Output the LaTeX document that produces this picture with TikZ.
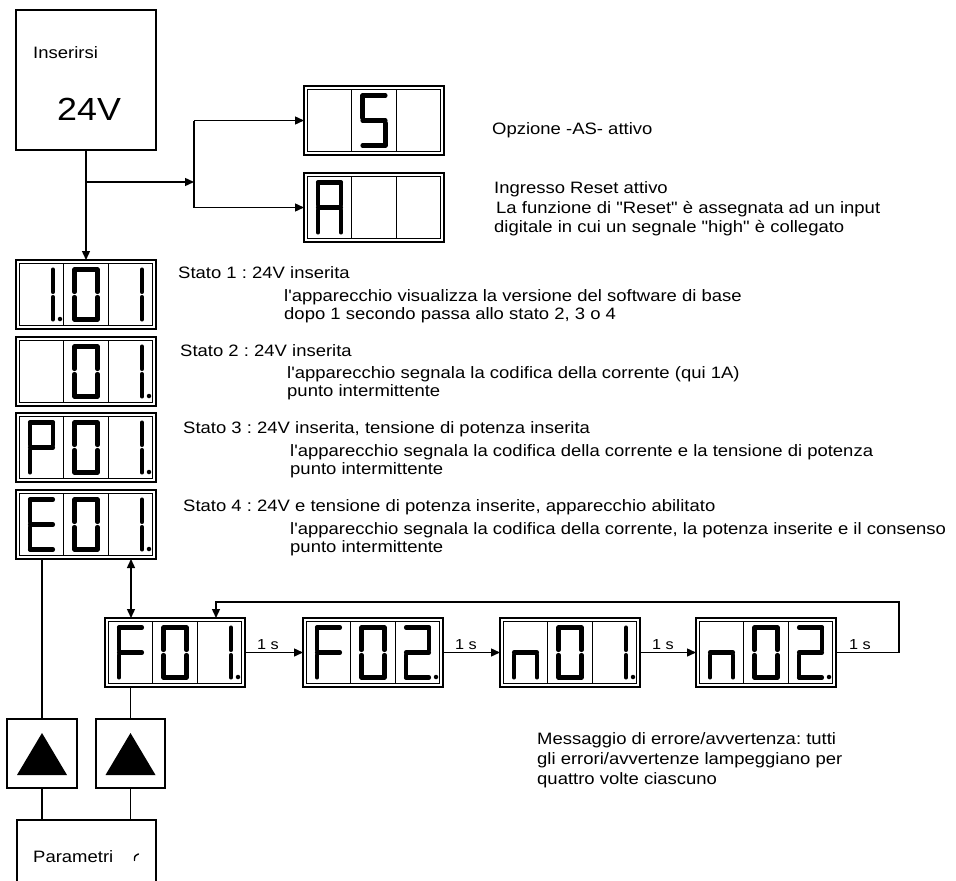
\documentclass[tikz,border=0pt]{standalone}
\usepackage{fontspec}
\newfontfamily\arialf[FakeStretch=1.12]{Liberation Sans}
\usetikzlibrary{arrows.meta,calc}
\def\segpa{(-11.5,-25) -- (11.5,-25)}
\def\segpb{(11.5,-25) -- (11.5,-2.5)}
\def\segpc{(11.5,2.5) -- (11.5,25)}
\def\segpd{(-11.5,25) -- (11.5,25)}
\def\segpe{(-11.5,2.5) -- (-11.5,25)}
\def\segpf{(-11.5,-25) -- (-11.5,-2.5)}
\def\segpg{(-11.5,0) -- (11.5,0)}
\def\segpp{(18.5,24.5) circle (0.2)}
\def\segpx{(0,0)}
\newcommand\sevseg[3]{\begin{scope}[shift={({#1},{#2})}]\foreach \s in {#3}{\expandafter\let\expandafter\segcur\csname segp\s\endcsname\draw[segline] \segcur;}\end{scope}}
\newcommand\dispunit[6]{%
  \node[dispout] (#1) at (#2,#3) {};
  \draw[dispin] ({#2+3.3},{#3+3.3}) rectangle ({#2+136.7},{#3+65.7});
  \draw[divline] ({#2+47.8},{#3+3.3}) -- ({#2+47.8},{#3+65.7}) ({#2+92.2},{#3+3.3}) -- ({#2+92.2},{#3+65.7});
  \sevseg{#2+25.5}{#3+34.5}{#4}%
  \sevseg{#2+70}{#3+34.5}{#5}%
  \sevseg{#2+114.5}{#3+34.5}{#6}%
}
\begin{document}
\begin{tikzpicture}[x=1pt,y=-1pt,
  conn/.style={line width=1.4pt},
  >={Triangle[length=9pt,width=8pt]},
  segline/.style={line width=4.1pt,line cap=round,line join=round},
  dispout/.style={draw,line width=1.6pt,minimum width=140pt,minimum height=69pt,anchor=north west,inner sep=0pt,outer sep=0pt},
  dispin/.style={line width=1.3pt},
  divline/.style={line width=1.1pt},
  boxn/.style={draw,line width=1.4pt,anchor=north west,inner sep=0pt,outer sep=0pt},
  txt/.style={font=\arialf\fontsize{16.5}{18}\selectfont\frenchspacing,inner sep=0pt,anchor=base west},
  bigtxt/.style={font=\arialf\fontsize{32}{36}\selectfont,inner sep=0pt,anchor=base west},
  smalltxt/.style={font=\arialf\fontsize{14.5}{16}\selectfont,inner sep=0pt,anchor=base west}]
\useasboundingbox (0,0) rectangle (956,881);
\clip (0,0) rectangle (956,881);

% power box
\node[boxn,minimum width=140pt,minimum height=140pt] (in) at (16,10) {};
\node[txt] (tIns) at (33,58) {Inserirsi};
\node[bigtxt] (t24) at (57,120) {24V};

% displays
\dispunit{dS}{304}{86}{x}{a,f,g,c,d}{x}
\dispunit{dA}{304}{173}{a,b,c,e,f,g}{x}{x}
\dispunit{d1}{16}{260}{b,c,p}{a,b,c,d,e,f}{b,c}
\dispunit{d2}{16}{337}{x}{a,b,c,d,e,f}{b,c,p}
\dispunit{d3}{16}{413}{a,b,f,g,e}{a,b,c,d,e,f}{b,c,p}
\dispunit{d4}{16}{490}{a,f,g,e,d}{a,b,c,d,e,f}{b,c,p}
\dispunit{dF1}{105}{618}{a,f,g,e}{a,b,c,d,e,f}{b,c,p}
\dispunit{dF2}{303}{618}{a,f,g,e}{a,b,c,d,e,f}{a,b,g,e,d,p}
\dispunit{dF3}{500}{618}{e,g,c}{a,b,c,d,e,f}{b,c,p}
\dispunit{dF4}{696}{618}{e,g,c}{a,b,c,d,e,f}{a,b,g,e,d,p}

% key boxes
\node[boxn,minimum width=70pt,minimum height=69pt] (t1) at (7,719) {};
\node[boxn,minimum width=69pt,minimum height=69pt] (t2) at (96,719) {};
\fill ($(t1.center)+(0,-20.5)$) -- ($(t1.center)+(-25,21.5)$) -- ($(t1.center)+(25,21.5)$) -- cycle;
\fill ($(t2.center)+(0,-20.5)$) -- ($(t2.center)+(-25,21.5)$) -- ($(t2.center)+(25,21.5)$) -- cycle;
\node[boxn,minimum width=139pt,minimum height=100pt] (par) at (17,820) {};
\node[txt] (tPar) at (33,862) {Parametri};
\draw[line width=1.4pt,line cap=round] (134.5,860.5) .. controls (134.5,856) .. (138.5,854);

% texts
\node[txt] (opz) at (492,134) {Opzione -AS- attivo};
\node[txt] (ing1) at (494,193) {Ingresso Reset attivo};
\node[txt] (ing2) at (496,213) {La funzione di "Reset" è assegnata ad un input};
\node[txt] (ing3) at (494,232) {digitale in cui un segnale "high" è collegato};
\node[txt] (s1a) at (178,278) {Stato 1 : 24V inserita};
\node[txt] (s1b) at (284,301) {l'apparecchio visualizza la versione del software di base};
\node[txt] (s1c) at (284,319) {dopo 1 secondo passa allo stato 2, 3 o 4};
\node[txt] (s2a) at (180,356) {Stato 2 : 24V inserita};
\node[txt] (s2b) at (287,378) {l'apparecchio segnala la codifica della corrente (qui 1A)};
\node[txt] (s2c) at (287,396) {punto intermittente};
\node[txt] (s3a) at (183,433) {Stato 3 : 24V inserita, tensione di potenza inserita};
\node[txt] (s3b) at (290,456) {l'apparecchio segnala la codifica della corrente e la tensione di potenza};
\node[txt] (s3c) at (290,474) {punto intermittente};
\node[txt] (s4a) at (183,511) {Stato 4 : 24V e tensione di potenza inserite, apparecchio abilitato};
\node[txt] (s4b) at (290,534) {l'apparecchio segnala la codifica della corrente, la potenza inserite e il consenso};
\node[txt] (s4c) at (290,552) {punto intermittente};
\node[txt] (m1) at (537,744) {Messaggio di errore/avvertenza: tutti};
\node[txt] (m2) at (537,764) {gli errori/avvertenze lampeggiano per};
\node[txt] (m3) at (537,784) {quattro volte ciascuno};

% connectors
\coordinate (j1) at (86,182);
\coordinate (j2) at (194,182);
\draw[conn,->] (86,150) -- (86,260);
\draw[conn,->] (j1) -- (j2);
\draw[conn] (dS.west -| j2) -- (dA.west -| j2);
\draw[conn,->] (dS.west -| j2) -- (dS.west);
\draw[conn,->] (dA.west -| j2) -- (dA.west);
\draw[conn] (d4.south -| t1.north) -- (t1.north);
\draw[conn] (t1.south) -- (t1.south |- par.north);
\draw[conn,<->] ($(d4.south west)+(115,0)$) -- ($(dF1.north west)+(26,0)$);
\draw[conn] (dF1.south -| t2.north) -- (t2.north);
\draw[conn] (t2.south) -- (t2.south |- par.north);
\draw[conn,->] (dF1.east) -- (dF2.west);
\draw[conn,->] (dF2.east) -- (dF3.west);
\draw[conn,->] (dF3.east) -- (dF4.west);
\draw[conn,->] (dF4.east) -- ++(63,0) |- ($(dF1.north west)+(111,-16)$) -- ($(dF1.north west)+(111,0)$);
\node[smalltxt] (l1) at ($(dF1.east)+(12,-3.5)$) {1 s};
\node[smalltxt] (l2) at ($(dF2.east)+(12,-3.5)$) {1 s};
\node[smalltxt] (l3) at ($(dF3.east)+(12,-3.5)$) {1 s};
\node[smalltxt] (l4) at ($(dF4.east)+(13,-3.5)$) {1 s};
\end{tikzpicture}
\end{document}
